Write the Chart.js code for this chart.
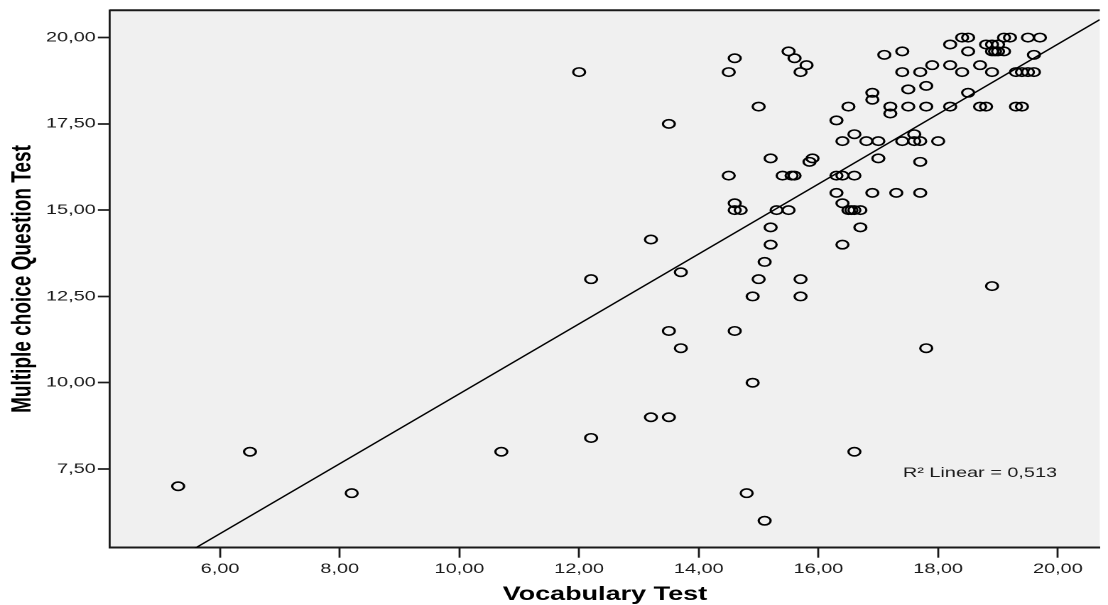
<!DOCTYPE html>
<html>
<head>
<meta charset="utf-8">
<script src="https://cdn.jsdelivr.net/npm/chart.js@4.4.0/dist/chart.umd.min.js"></script>
<style>
  html, body { margin: 0; padding: 0; background: #fff; overflow: hidden; }
  /* the original SPSS picture is stretched sideways, so the whole canvas is too */
  #wrap { width: 780px; height: 605px; transform: scaleX(1.4205); transform-origin: 0 0; }
</style>
</head>
<body>
<div id="wrap"><canvas id="scatterChart" width="780" height="605"></canvas></div>
<script>
// one entry per student, grouped by row of the picture
const vocabScores = [
  18.4, 18.5, 19.1, 19.2, 19.5, 19.7,
  18.2, 18.8, 18.9, 19.0,
  15.5, 17.4, 18.5, 18.9, 18.95, 19.0, 19.1,
  17.1, 19.6,
  14.6, 15.6,
  15.8, 17.9, 18.2, 18.7,
  12.0, 14.5, 15.7, 17.4, 17.7, 18.4, 18.9, 19.3, 19.4, 19.5, 19.6,
  17.8, 17.5, 16.9, 18.5, 16.9,
  15.0, 16.5, 17.2, 17.5, 17.8, 18.2, 18.7, 18.8, 19.3, 19.4,
  17.2, 16.3, 13.5,
  16.6, 17.6,
  16.4, 16.8, 17.0, 17.4, 17.6, 17.7, 18.0,
  15.2, 15.9, 17.0, 15.85, 17.7,
  14.5, 15.4, 15.55, 15.6, 16.3, 16.4, 16.6,
  16.3, 16.9, 17.3, 17.7,
  14.6, 16.4,
  14.6, 14.7, 15.3, 15.5, 16.5, 16.55, 16.6, 16.7,
  15.2, 16.7, 13.2, 15.2, 16.4, 15.1, 13.7,
  12.2, 15.0, 15.7, 18.9, 14.9, 15.7,
  13.5, 14.6, 13.7, 17.8, 14.9,
  13.2, 13.5, 12.2, 6.5, 10.7, 16.6,
  5.3, 8.2, 14.8, 15.1
];
const mcqScores = [
  20.0, 20.0, 20.0, 20.0, 20.0, 20.0,
  19.8, 19.8, 19.8, 19.8,
  19.6, 19.6, 19.6, 19.6, 19.6, 19.6, 19.6,
  19.5, 19.5,
  19.4, 19.4,
  19.2, 19.2, 19.2, 19.2,
  19.0, 19.0, 19.0, 19.0, 19.0, 19.0, 19.0, 19.0, 19.0, 19.0, 19.0,
  18.6, 18.5, 18.4, 18.4, 18.2,
  18.0, 18.0, 18.0, 18.0, 18.0, 18.0, 18.0, 18.0, 18.0, 18.0,
  17.8, 17.6, 17.5,
  17.2, 17.2,
  17.0, 17.0, 17.0, 17.0, 17.0, 17.0, 17.0,
  16.5, 16.5, 16.5, 16.4, 16.4,
  16.0, 16.0, 16.0, 16.0, 16.0, 16.0, 16.0,
  15.5, 15.5, 15.5, 15.5,
  15.2, 15.2,
  15.0, 15.0, 15.0, 15.0, 15.0, 15.0, 15.0, 15.0,
  14.5, 14.5, 14.15, 14.0, 14.0, 13.5, 13.2,
  13.0, 13.0, 13.0, 12.8, 12.5, 12.5,
  11.5, 11.5, 11.0, 11.0, 10.0,
  9.0, 9.0, 8.4, 8.0, 8.0, 8.0,
  7.0, 6.8, 6.8, 6.0
];

const xTicks = [6, 8, 10, 12, 14, 16, 18, 20];
const yTicks = [7.5, 10, 12.5, 15, 17.5, 20];
const xRange = [4.16, 20.70];
const yRange = [5.22, 20.79];

// fitted line
const fitSlope = 1.013;
const fitIntercept = -0.45;
const fitLabel = "R\u00B2 Linear = 0,513";
const fitLabelAt = { x: 17.41, y: 7.38 };

const fontFamily = '"Liberation Sans", Arial, sans-serif';
const ink = "#1a1a1a";

function commaFormat(v) {
  return Number(v).toFixed(2).replace(".", ",");
}

const plotFrame = {
  id: "plotFrame",
  beforeDraw(chart) {
    const { ctx, chartArea } = chart;
    ctx.save();
    ctx.fillStyle = "#f0f0f0";
    ctx.fillRect(chartArea.left, chartArea.top, chartArea.right - chartArea.left, chartArea.bottom - chartArea.top);
    ctx.restore();
  },
  afterDatasetsDraw(chart) {
    const { ctx, chartArea, scales } = chart;
    ctx.save();
    // top edge of the frame
    ctx.strokeStyle = ink;
    ctx.lineWidth = 2;
    ctx.beginPath();
    ctx.moveTo(chartArea.left, chartArea.top);
    ctx.lineTo(chartArea.right, chartArea.top);
    ctx.stroke();
    // R² note
    ctx.fillStyle = ink;
    ctx.font = "14px " + fontFamily;
    ctx.textAlign = "left";
    ctx.textBaseline = "middle";
    ctx.fillText(fitLabel, scales.x.getPixelForValue(fitLabelAt.x), scales.y.getPixelForValue(fitLabelAt.y));
    ctx.restore();
  },
};

const points = vocabScores.map((v, i) => ({ x: v, y: mcqScores[i] }));
const fitLine = xRange.map((v) => ({ x: v, y: fitIntercept + fitSlope * v }));

const ctx = document.getElementById("scatterChart").getContext("2d");

new Chart(ctx, {
  type: "scatter",
  data: {
    datasets: [
      {
        label: "Students",
        data: points,
        pointStyle: "circle",
        pointRadius: 4.2,
        pointBorderWidth: 1.6,
        borderColor: "#000",
        backgroundColor: "rgba(0,0,0,0)",
        pointHoverRadius: 4.2,
      },
      {
        type: "line",
        label: "Linear fit",
        data: fitLine,
        borderColor: "#000",
        borderWidth: 1.3,
        pointRadius: 0,
        fill: false,
      },
    ],
  },
  options: {
    responsive: false,
    animation: false,
    devicePixelRatio: 2,
    layout: { padding: { top: 10.3, right: 0, left: 0, bottom: 0 } },
    plugins: {
      legend: { display: false },
      tooltip: { enabled: false },
    },
    scales: {
      x: {
        type: "linear",
        min: xRange[0],
        max: xRange[1],
        afterBuildTicks: (scale) => {
          scale.ticks = xTicks.map((v) => ({ value: v }));
        },
        afterFit: (scale) => {
          scale.height = 57.3;
        },
        ticks: {
          callback: (v) => commaFormat(v),
          color: ink,
          font: { family: fontFamily, size: 14 },
          padding: 3,
          maxRotation: 0,
          autoSkip: false,
        },
        grid: {
          drawOnChartArea: false,
          drawTicks: true,
          tickLength: 10,
          tickWidth: 1.4,
          tickColor: ink,
        },
        border: { display: true, color: ink, width: 2 },
        title: {
          display: true,
          text: "Vocabulary Test",
          color: "#000",
          font: { family: fontFamily, size: 19, weight: "bold", lineHeight: 1 },
          padding: { top: 0.5, bottom: 0.5 },
        },
      },
      y: {
        type: "linear",
        min: yRange[0],
        max: yRange[1],
        afterBuildTicks: (scale) => {
          scale.ticks = yTicks.map((v) => ({ value: v }));
        },
        afterFit: (scale) => {
          scale.width = 77.4;
        },
        ticks: {
          callback: (v) => commaFormat(v),
          color: ink,
          font: { family: fontFamily, size: 14 },
          padding: 1.5,
          autoSkip: false,
        },
        grid: {
          drawOnChartArea: false,
          drawTicks: true,
          tickLength: 8.5,
          tickWidth: 1.7,
          tickColor: ink,
        },
        border: { display: true, color: ink, width: 1.4 },
        title: {
          display: true,
          text: "Multiple choice Question Test",
          color: "#000",
          font: { family: fontFamily, size: 19, weight: "bold", lineHeight: 1 },
          padding: { top: 6.7, bottom: 0 },
        },
      },
    },
  },
  plugins: [plotFrame],
});
</script>
</body>
</html>
